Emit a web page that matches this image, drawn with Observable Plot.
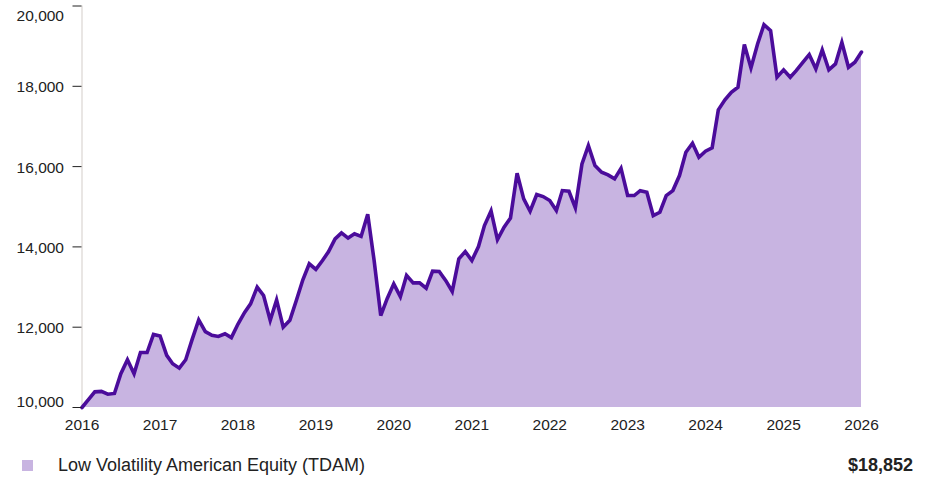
<!DOCTYPE html>
<html>
<head>
<meta charset="utf-8">
<script src="https://cdn.jsdelivr.net/npm/d3@7"></script>
<script src="https://cdn.jsdelivr.net/npm/@observablehq/plot@0.6"></script>
<style>
  html, body { margin: 0; padding: 0; background: #fff; }
  body { width: 926px; height: 479px; overflow: hidden; font-family: "Liberation Sans", Arial, sans-serif; color: #222; }
  #legend { position: relative; height: 34px; padding-top: 8px; box-sizing: border-box; }
  #legend .sw { position: absolute; left: 22px; top: 15px; width: 11px; height: 11px; background: #C8B4E1; }
  #legend .lbl { position: absolute; left: 58px; top: 8px; line-height: 24px; font-size: 18px; }
  #legend .val { position: absolute; right: 13px; top: 8px; line-height: 24px; font-size: 18px; font-weight: bold; }
</style>
</head>
<body>
<div id="chart"></div>
<div id="legend"><span class="sw"></span><span class="lbl"></span><span class="val"></span></div>
<script>
// ---- Data ----
const seriesName = "Low Volatility American Equity (TDAM)";
const finalValueLabel = "$18,852";
const startMonth = "2016-01-01";
const values = [
  10000, 10200, 10390, 10400, 10330, 10350, 10840, 11190, 10840, 11370, 11370, 11820,
  11780, 11300, 11090, 10980, 11190, 11710, 12180, 11890, 11800, 11770, 11835, 11740,
  12080, 12370, 12580, 13000, 12790, 12170, 12680, 12000, 12170, 12660, 13180, 13580,
  13440, 13660, 13880, 14200, 14350, 14220, 14325, 14260, 14815, 13660, 12290, 12710,
  13080, 12760, 13290, 13105, 13105, 12970, 13395, 13386, 13160, 12890, 13700, 13884,
  13660, 14010, 14530, 14895, 14183, 14490, 14720, 15834, 15197, 14888, 15304, 15254,
  15154, 14905, 15403, 15386, 14972, 16067, 16524, 16026, 15859, 15794, 15694, 15955,
  15279, 15279, 15400, 15361, 14781, 14863, 15279, 15403, 15777, 16357, 16581, 16233,
  16382, 16466, 17413, 17662, 17851, 17976, 19039, 18459, 19055, 19537, 19387, 18225,
  18409, 18225, 18391, 18598, 18790, 18434, 18907, 18409, 18558, 19096, 18474, 18600,
  18852
];
const yearLabels = [2016, 2017, 2018, 2019, 2020, 2021, 2022, 2023, 2024, 2025, 2026];
const yTickValues = [10000, 12000, 14000, 16000, 18000, 20000];

// ---- Build table ----
const start = new Date(startMonth + "T00:00:00Z");
const data = values.map((v, i) => ({ date: d3.utcMonth.offset(start, i), value: v }));
const yearDates = yearLabels.map(y => new Date(Date.UTC(y, 0, 1)));
const yMin = yTickValues[0], yMax = yTickValues[yTickValues.length - 1];
const fmt = d3.format(",");

const lineColor = "#4B0C9B";
const fillColor = "#C8B4E1";

const chart = Plot.plot({
  width: 926,
  height: 445,
  marginLeft: 81.5,
  marginRight: 65,
  marginTop: 5.5,
  marginBottom: 38,
  style: { fontFamily: "'Liberation Sans', Arial, sans-serif", fontSize: "15.5px", color: "#222", background: "#fff" },
  x: { type: "utc", domain: [yearDates[0], yearDates[yearDates.length - 1]], label: null },
  y: { domain: [yMin, yMax], label: null },
  marks: [
    Plot.areaY(data, { x: "date", y1: yMin, y2: "value", fill: fillColor }),
    Plot.ruleX([yearDates[0]], { stroke: "#e2dedb", strokeWidth: 1.5 }),
    Plot.lineY(data, { x: "date", y: "value", stroke: lineColor, strokeWidth: 3.6, strokeLinejoin: "miter", strokeMiterlimit: 4 }),
    Plot.axisY({ ticks: yTickValues, tickSize: 9, tickFormat: () => "", stroke: "#222", label: null }),
    Plot.text(yTickValues.filter(v => v !== yMin && v !== yMax), { y: d => d, text: d => fmt(d), frameAnchor: "left", textAnchor: "end", dx: -18, dy: 1, fill: "#222" }),
    Plot.text([yMax], { y: d => d, text: d => fmt(d), frameAnchor: "left", textAnchor: "end", dx: -18, dy: 10, fill: "#222" }),
    Plot.text([yMin], { y: d => d, text: d => fmt(d), frameAnchor: "left", textAnchor: "end", dx: -18, dy: -5, fill: "#222" }),
    Plot.axisX({ ticks: yearDates, tickSize: 0, tickPadding: 11, tickFormat: d => String(d.getUTCFullYear()), fill: "#222", label: null })
  ]
});
document.getElementById("chart").appendChild(chart);
document.querySelector("#legend .lbl").textContent = seriesName;
document.querySelector("#legend .val").textContent = finalValueLabel;
</script>
</body>
</html>
